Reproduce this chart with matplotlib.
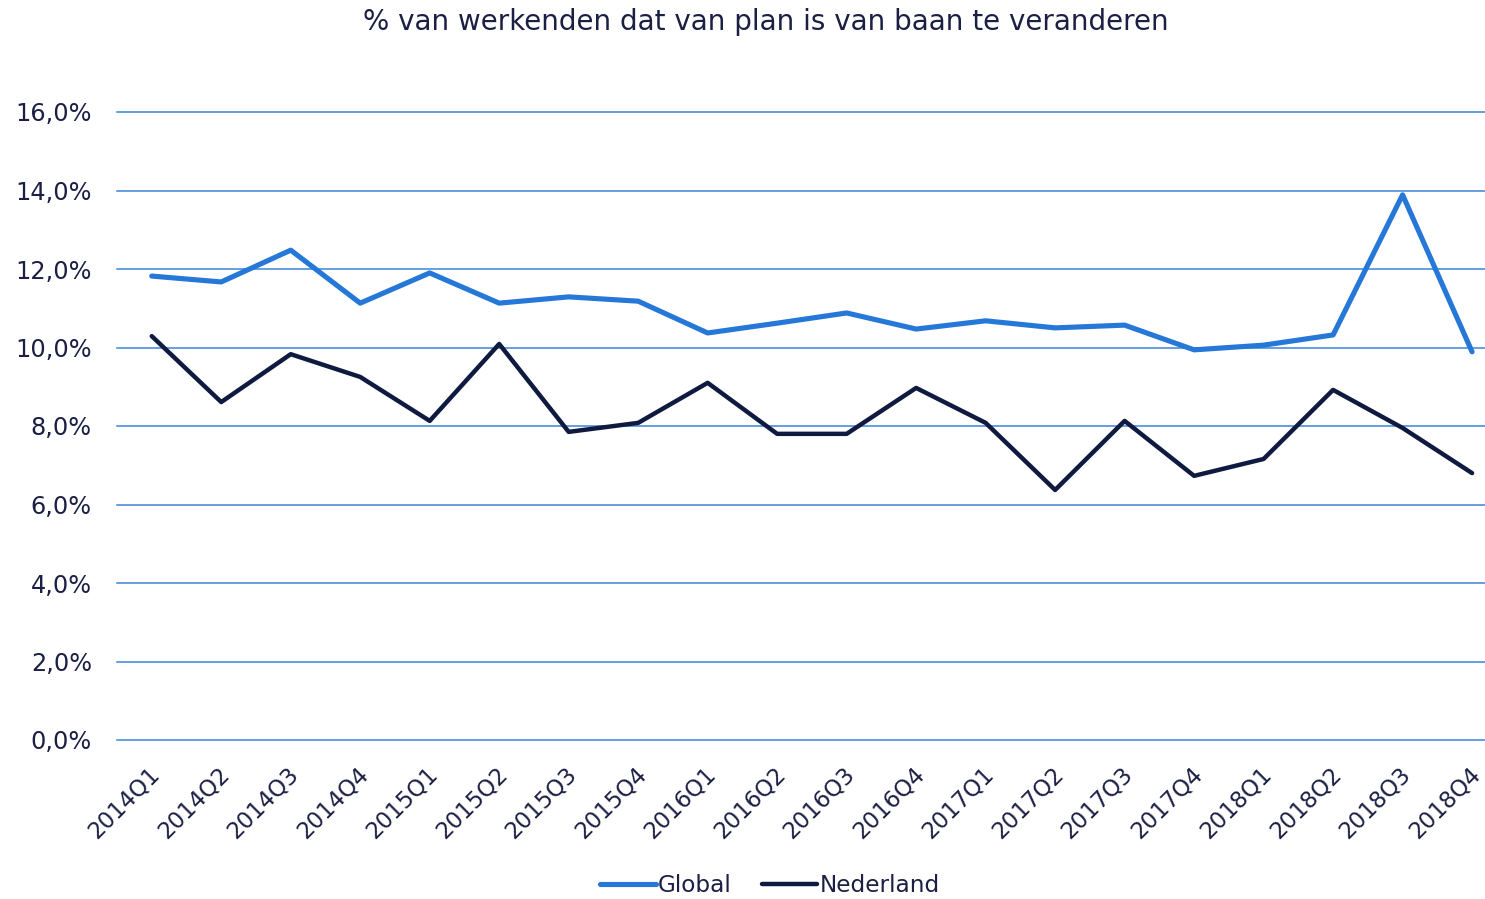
import matplotlib
matplotlib.use('Agg')
import matplotlib.pyplot as plt
import matplotlib.transforms as mtransforms
import numpy as np

quarters = ['2014Q1', '2014Q2', '2014Q3', '2014Q4',
            '2015Q1', '2015Q2', '2015Q3', '2015Q4',
            '2016Q1', '2016Q2', '2016Q3', '2016Q4',
            '2017Q1', '2017Q2', '2017Q3', '2017Q4',
            '2018Q1', '2018Q2', '2018Q3', '2018Q4']
global_pct = [11.82, 11.67, 12.48, 11.13, 11.90, 11.13, 11.29, 11.18, 10.37, 10.62,
              10.88, 10.47, 10.68, 10.50, 10.57, 9.94, 10.06, 10.32, 13.89, 9.89]
nederland_pct = [10.29, 8.61, 9.83, 9.25, 8.13, 10.09, 7.85, 8.08, 9.10, 7.80,
                 7.80, 8.97, 8.08, 6.37, 8.13, 6.73, 7.16, 8.92, 7.95, 6.80]
y_ticks = [0, 2, 4, 6, 8, 10, 12, 14, 16]

text_col = '#1b1f44'
blue = '#2577d8'
navy = '#0f1a40'

fig = plt.figure(figsize=(14.85, 8.99), dpi=100)
ax = fig.add_axes([117/1485, 1 - 740/899, 1 - 117/1485, (740 - 112)/899])

x = np.arange(len(quarters))
ax.plot(x, global_pct, color=blue, lw=3.7, label='Global', solid_joinstyle='round',
        solid_capstyle='round', clip_on=False, zorder=3)
ax.plot(x, nederland_pct, color=navy, lw=3.2, label='Nederland', solid_joinstyle='round',
        solid_capstyle='round', clip_on=False, zorder=3)

ax.set_ylim(0, 16)
ax.set_xlim(-0.5, (1485 - 151) / 69.53)
ax.set_yticks(y_ticks)
ax.set_yticklabels([('%.1f%%' % v).replace('.', ',') for v in y_ticks])
ax.set_xticks(x)
ax.set_xticklabels(quarters, rotation=45, ha='right', va='center_baseline',
                   rotation_mode='anchor')

ax.grid(axis='y', color='#3a84d8', lw=1.1)
for g in ax.get_ygridlines():
    g.set_clip_on(False)
ax.set_axisbelow(True)
for s in ax.spines.values():
    s.set_visible(False)
ax.tick_params(axis='both', length=0, colors=text_col)
ax.tick_params(axis='y', pad=18, labelsize=17.3)
ax.tick_params(axis='x', pad=21, labelsize=16.5)

# nudge the rotated labels slightly to the right
shift = mtransforms.ScaledTranslation(3/100, 0, fig.dpi_scale_trans)
for lbl in ax.xaxis.get_majorticklabels():
    lbl.set_transform(lbl.get_transform() + shift)

fig.text(766/1485, 1 - 22/899, '% van werkenden dat van plan is van baan te veranderen',
         ha='center', va='center', fontsize=20, color=text_col)

leg = fig.legend(loc='center', bbox_to_anchor=(770/1485, 1 - 886/899), ncol=2,
                 frameon=False, fontsize=16.7, handlelength=2.4, handletextpad=0.1,
                 columnspacing=1.3)
for t in leg.get_texts():
    t.set_color(text_col)

fig.savefig('out.png', dpi=100)
